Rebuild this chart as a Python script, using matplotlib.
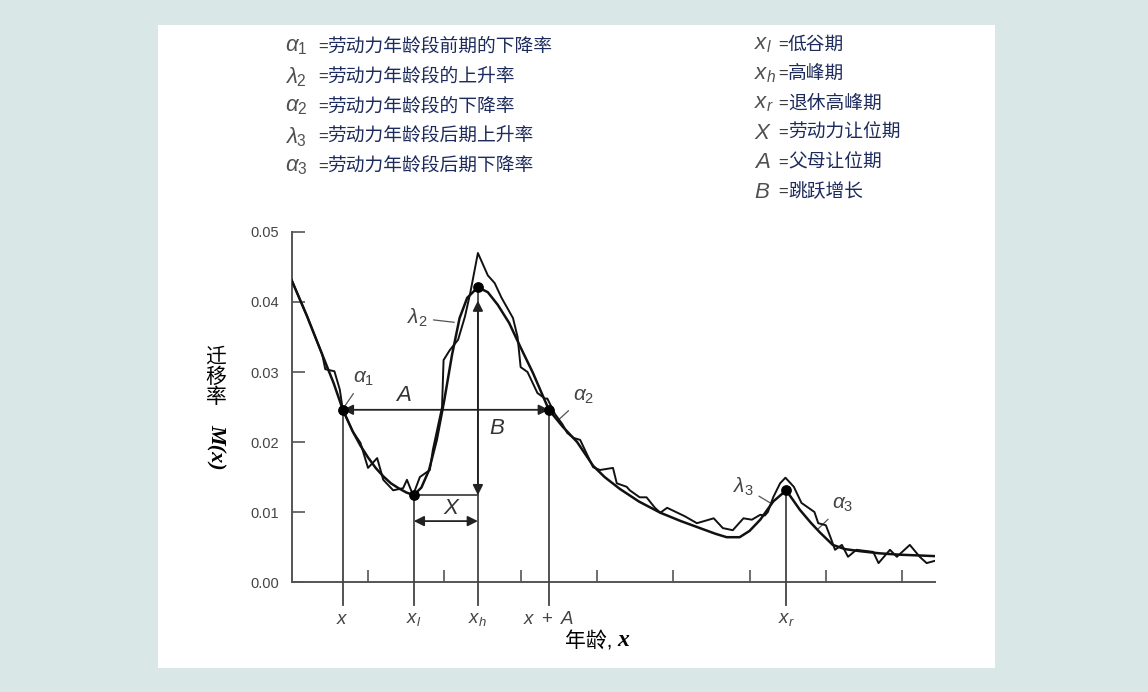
import matplotlib
matplotlib.use("Agg")
import matplotlib.pyplot as plt
from matplotlib.patches import Rectangle

# fitted model schedule (smooth curve), age vs migration rate
fit_age = [0, 2, 4, 5.5, 6.7, 8, 9, 10, 11, 12, 13, 14, 15, 16, 17, 18, 19, 20, 21, 22, 23,
           24.4, 25.7, 27, 28.5, 30, 31.6, 33.7, 35.5, 37.4, 39.5, 41, 43, 45.5, 48.3, 51,
           53.5, 55.5, 57, 58.7, 60, 61.4, 63.1, 64.8, 66.6, 68, 69.2, 70.9, 72.5, 74.5,
           77, 79.7, 82, 84.2]
fit_rate = [0.0431, 0.0380, 0.0325, 0.0284, 0.0246, 0.0215, 0.0195, 0.0178, 0.0163, 0.0151,
            0.0141, 0.0134, 0.0128, 0.0124, 0.0135, 0.0160, 0.0203, 0.0260, 0.0324, 0.0377,
            0.0406, 0.0421, 0.0414, 0.0396, 0.0370, 0.0335, 0.0299, 0.0246, 0.0222, 0.0200,
            0.0166, 0.0150, 0.0133, 0.0115, 0.0099, 0.0087, 0.0077, 0.0069, 0.0064, 0.0064,
            0.0073, 0.0089, 0.0115, 0.0131, 0.0103, 0.0085, 0.0071, 0.0053, 0.0047, 0.0044,
            0.0041, 0.0039, 0.0038, 0.0037]

# observed schedule (jagged curve)
obs_age = [0, 2, 4, 4.4, 5.6, 6.3, 6.7, 8, 9, 10, 11.2, 12, 13.3, 14.6, 15.1, 15.9, 16.8,
           18.1, 18.5, 19.7, 19.9, 20.7, 21.8, 22.7, 23.4, 24.4, 25.7, 26.6, 27.5, 29.0,
           29.6, 30.0, 30.9, 32.2, 33.2, 33.5, 34.5, 35.5, 36.1, 36.9, 37.8, 39.5, 40.4,
           42.1, 42.6, 43.9, 44.3, 45.6, 46.5, 47.6, 48.3, 49.2, 51.5, 53.1, 55.3, 56.5,
           57.8, 59.2, 60.3, 61.4, 62.0, 62.4, 63.1, 64.0, 64.7, 65.8, 66.8, 68.5, 69.0,
           70.0, 70.6, 71.2, 72.1, 72.9, 74.0, 76.2, 76.9, 78.4, 79.3, 81.0, 82.3, 83.2, 84.2]
obs_rate = [0.0431, 0.0380, 0.0325, 0.0304, 0.0301, 0.0275, 0.0246, 0.0215, 0.0199, 0.0163,
            0.0177, 0.0146, 0.0131, 0.0134, 0.0146, 0.0124, 0.0150, 0.0160, 0.0189, 0.0250,
            0.0317, 0.0331, 0.0346, 0.0379, 0.0413, 0.0470, 0.0438, 0.0427, 0.0406, 0.0377,
            0.0350, 0.0307, 0.0300, 0.0270, 0.0262, 0.0262, 0.0240, 0.0225, 0.0213, 0.0206,
            0.0203, 0.0164, 0.0160, 0.0163, 0.0141, 0.0136, 0.0131, 0.0121, 0.0121, 0.0106,
            0.0099, 0.0106, 0.0094, 0.0084, 0.0091, 0.0077, 0.0074, 0.0091, 0.0089, 0.0096,
            0.0095, 0.0100, 0.0121, 0.0141, 0.0149, 0.0136, 0.0113, 0.0100, 0.0084, 0.0081,
            0.0064, 0.0046, 0.0053, 0.0036, 0.0046, 0.0043, 0.0027, 0.0046, 0.0036, 0.0053,
            0.0036, 0.0027, 0.0030]

# key ages: x, x_l, x_h, x+A, x_r
mark_age = [6.7, 16, 24.4, 33.7, 64.8]
mark_rate = [0.0246, 0.0124, 0.0421, 0.0246, 0.0131]
mark_label = ["$x$", "$x_l$", "$x_h$", "$x\\ +\\ A$", "$x_r$"]

y_ticks = [0.00, 0.01, 0.02, 0.03, 0.04, 0.05]
y_tick_labels = ["0.00", "0.01", "0.02", "0.03", "0.04", "0.05"]
x_ticks = [10, 20, 30, 40, 50, 60, 70, 80]

left_syms = ["$\\alpha_1$", "$\\lambda_2$", "$\\alpha_2$", "$\\lambda_3$", "$\\alpha_3$"]
left_texts = ["劳动力年龄段前期的下降率", "劳动力年龄段的上升率", "劳动力年龄段的下降率",
              "劳动力年龄段后期上升率", "劳动力年龄段后期下降率"]
right_syms = ["$x_l$", "$x_h$", "$x_r$", "$X$", "$A$", "$B$"]
right_texts = ["低谷期", "高峰期", "退休高峰期", "劳动力让位期", "父母让位期", "跳跃增长"]

plt.rcParams['font.family'] = ['Liberation Sans', 'Noto Sans CJK SC', 'DejaVu Sans']
plt.rcParams['mathtext.fontset'] = 'custom'
plt.rcParams['mathtext.it'] = 'Liberation Sans:italic'
plt.rcParams['mathtext.rm'] = 'Liberation Sans'

W, H = 1148, 692
def fx(px):
    return px / W
def fy(py):
    return 1 - py / H

fig = plt.figure(figsize=(W / 100, H / 100), dpi=100, facecolor='#d9e7e6')
fig.patches.append(Rectangle((fx(158), fy(668)), (995 - 158) / W, (668 - 25) / H,
                             transform=fig.transFigure, facecolor='white',
                             edgecolor='none', zorder=-5))

ax = fig.add_axes([fx(291.7), fy(582), (935 - 291.7) / W, 350 / H])
ax.set_facecolor('white')
ax.set_xlim(0, 84.3)
ax.set_ylim(0, 0.05)

line_col = '#444444'
ax.plot(fit_age, fit_rate, color='#111111', lw=1.8, zorder=4)
ax.plot(obs_age, obs_rate, color='#111111', lw=1.4, zorder=4)

# vertical guide lines down past the axis
for a, r in zip(mark_age, mark_rate):
    ax.plot([a, a], [r, -0.0033], color=line_col, lw=1.3, clip_on=False, zorder=3)
ax.scatter(mark_age, mark_rate, s=45, color='black', zorder=6)
for a, lab in zip(mark_age, mark_label):
    ax.text(a, -0.0053, lab, ha='center', va='center', fontsize=13.5, color='#444444',
            clip_on=False)

# horizontal line from trough to peak
ax.plot([mark_age[1], mark_age[2]], [mark_rate[1], mark_rate[1]], color=line_col, lw=1.3)

arrow = dict(arrowstyle='<|-|>', color='#222222', lw=1.3, shrinkA=0, shrinkB=0,
             mutation_scale=15)
# A arrow
ax.annotate('', xy=(mark_age[0], mark_rate[0]), xytext=(mark_age[3], mark_rate[3]),
            arrowprops=arrow)
ax.text(14.6, 0.0267, '$A$', fontsize=16, color='#333333', ha='center', va='center')
# B arrow
ax.annotate('', xy=(mark_age[2], mark_rate[1]), xytext=(mark_age[2], 0.0402),
            arrowprops=arrow)
ax.text(26.9, 0.0220, '$B$', fontsize=16, color='#333333', ha='center', va='center')
# X arrow
ax.annotate('', xy=(mark_age[1], 0.0087), xytext=(mark_age[2], 0.0087),
            arrowprops=arrow)
ax.text(21.0, 0.0105, '$X$', fontsize=16, color='#333333', ha='center', va='center')

# curve labels with leader lines
lead = dict(arrowstyle='-', color='#555555', lw=0.9, shrinkA=2, shrinkB=0)
ax.annotate('$\\alpha_1$', xy=(7.0, 0.0252), xytext=(9.4, 0.0290), fontsize=15,
            color='#444444', ha='center', va='center', arrowprops=lead)
ax.annotate('$\\lambda_2$', xy=(21.3, 0.0371), xytext=(16.5, 0.0377), fontsize=15,
            color='#444444', ha='center', va='center', arrowprops=lead)
ax.annotate('$\\alpha_2$', xy=(35.0, 0.0232), xytext=(38.3, 0.0265), fontsize=15,
            color='#444444', ha='center', va='center', arrowprops=lead)
ax.annotate('$\\lambda_3$', xy=(62.7, 0.0113), xytext=(59.2, 0.0136), fontsize=15,
            color='#444444', ha='center', va='center', arrowprops=lead)
ax.annotate('$\\alpha_3$', xy=(69.0, 0.0076), xytext=(72.2, 0.0110), fontsize=15,
            color='#444444', ha='center', va='center', arrowprops=lead)

for s in ['top', 'right']:
    ax.spines[s].set_visible(False)
for s in ['left', 'bottom']:
    ax.spines[s].set_color('#555555')
    ax.spines[s].set_linewidth(1.4)
ax.set_xticks(x_ticks)
ax.set_xticklabels([])
ax.tick_params(axis='x', direction='in', length=9, width=1.2, color='#555555')
ax.set_yticks(y_ticks)
ax.set_yticklabels(y_tick_labels)
ax.tick_params(axis='y', direction='in', length=9, width=1.2, color='#555555',
               labelsize=10.5, labelcolor='#444444', pad=9)

# axis titles
fig.text(fx(216), fy(348), "迁\n移\n率", ha='center', va='top', fontsize=15,
         linespacing=1.05, color='black')
fig.text(fx(216), fy(447), "M(x)", ha='center', va='center', fontsize=16, rotation=270,
         family='Liberation Serif', style='italic', weight='bold', color='black')
fig.text(fx(612), fy(641), "年龄,", ha='right', va='center', fontsize=15, color='black')
fig.text(fx(617), fy(641), "x", ha='left', va='center', fontsize=17, color='black',
         family='Liberation Serif', style='italic', weight='bold')

# legend blocks at top
navy = '#1d2b5c'
for i, (s, t) in enumerate(zip(left_syms, left_texts)):
    y = fy(47 + 30 * i)
    fig.text(fx(285), y, s, ha='left', va='center', fontsize=16, color='#505050')
    fig.text(fx(318), y, "=", ha='left', va='center', fontsize=12, color='#333333')
    fig.text(fx(327), y, t, ha='left', va='center', fontsize=13.5, color=navy)
for i, (s, t) in enumerate(zip(right_syms, right_texts)):
    y = fy(45 + 29.5 * i)
    fig.text(fx(754), y, s, ha='left', va='center', fontsize=16, color='#505050')
    fig.text(fx(778), y, "=", ha='left', va='center', fontsize=12, color='#333333')
    fig.text(fx(788), y, t, ha='left', va='center', fontsize=13.5, color=navy)

fig.savefig('out.png', dpi=100, facecolor=fig.get_facecolor())
